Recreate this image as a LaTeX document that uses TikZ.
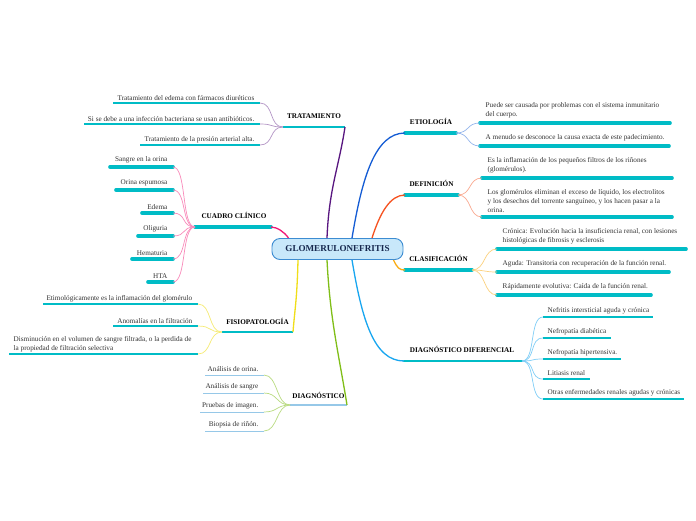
\documentclass[tikz,border=0pt]{standalone}
\usepackage{fontspec}
\setmainfont{Liberation Serif}
\usetikzlibrary{calc}
\definecolor{barteal}{RGB}{0,188,198}
\definecolor{rootfill}{RGB}{200,232,250}
\definecolor{rootline}{RGB}{60,140,210}
\definecolor{rootink}{RGB}{22,40,78}
\definecolor{tratcol}{RGB}{88,22,128}
\definecolor{cuadcol}{RGB}{242,22,118}
\definecolor{fisiocol}{RGB}{240,222,24}
\definecolor{diagcol}{RGB}{128,190,24}
\definecolor{etiocol}{RGB}{20,92,212}
\definecolor{defcol}{RGB}{246,82,32}
\definecolor{clascol}{RGB}{250,172,20}
\definecolor{difcol}{RGB}{24,166,240}
\definecolor{diagbar}{RGB}{150,200,232}

\tikzset{
  root/.style={draw=rootline,fill=rootfill,line width=0.9pt,rounded corners=8pt,
    minimum width=131pt,minimum height=21pt,inner sep=0pt,text=rootink,
    font=\bfseries\fontsize{9.1}{10}\selectfont},
  topic/.style={anchor=base,inner sep=0pt,font=\bfseries\fontsize{7.2}{8}\selectfont},
  leaf/.style={inner sep=0.5pt,font=\fontsize{7.2}{9}\selectfont,text=black!80},
  bar/.style={barteal,line width=3.6pt,line cap=round},
  thinbar/.style={barteal,line width=1.8pt},
  branch/.style={line width=1.3pt},
  twig/.style={line width=0.7pt}
}

\begin{document}
\begin{tikzpicture}[x=1pt,y=-1pt]
  \useasboundingbox[fill=white] (0,0) rectangle (696,520);

  % centre
  \node[root] (root) at (337.5,249) {GLOMERULONEFRITIS};

  % ---- left side ----
  % tratamiento
  \coordinate (tratL) at (283,127); \coordinate (tratR) at (345,127);
  \draw[thinbar] (tratL) -- (tratR);
  \node[topic] (trat) at (314,118) {TRATAMIENTO};
  \draw[branch,tratcol] ([xshift=-10.5pt]root.north) .. controls +(2,-50) and +(-6,40) .. (tratR);
  \foreach \n/\xa/\y/\t in {t1/113/103/{Tratamiento del edema con fármacos diuréticos},
      t2/84/124/{Si se debe a una infección bacteriana se usan antibióticos.},
      t3/140/145/{Tratamiento de la presión arterial alta.}}{
    \coordinate (\n) at (260,\y);
    \draw[thinbar] (\xa,\y) -- (\n);
    \node[leaf,anchor=south east] (\n-txt) at (255,\y-1.5) {\t};
    \draw[twig,tratcol!45] (tratL) .. controls +(-14,0) and +(14,0) .. (\n);
  }

  % cuadro clinico
  \coordinate (cuadL) at (195,227); \coordinate (cuadR) at (271,227);
  \draw[bar] (cuadL) -- (cuadR);
  \node[topic] (cuad) at (234,218) {CUADRO CLÍNICO};
  \draw[branch,cuadcol] ([xshift=-49pt]root.north) .. controls +(-4,-6) and +(6,0) .. (cuadR);
  \foreach \n/\xa/\y/\t in {c1/110/167/{Sangre en la orina},c2/116/190/{Orina espumosa},
      c3/142/213/{Edema},c4/138/236/{Oliguria},c5/132/259/{Hematuria},c6/148/282/{HTA}}{
    \coordinate (\n) at (173,\y);
    \draw[bar] (\xa,\y) -- (\n);
    \node[leaf,anchor=south east] (\n-txt) at (168,\y-3) {\t};
    \draw[twig,cuadcol!50] (cuadL) .. controls +(-14,0) and +(14,0) .. (\n);
  }

  % fisiopatologia
  \coordinate (fisioL) at (222,332); \coordinate (fisioR) at (293,332);
  \draw[thinbar] (fisioL) -- (fisioR);
  \node[topic] (fisio) at (257.5,324) {FISIOPATOLOGÍA};
  \draw[branch,fisiocol] ([xshift=-39.5pt]root.south) .. controls +(-1,40) and +(2,-25) .. (fisioR);
  \foreach \n/\xa/\y/\t in {f1/43/304/{Etimológicamente es la inflamación del glomérulo},
      f2/113/326/{Anomalías en la filtración}}{
    \coordinate (\n) at (198,\y);
    \draw[thinbar] (\xa,\y) -- (\n);
    \node[leaf,anchor=south east] (\n-txt) at (193,\y-1.5) {\t};
    \draw[twig,fisiocol!60] (fisioL) .. controls +(-14,0) and +(14,0) .. (\n);
  }
  \coordinate (f3) at (198,354);
  \draw[thinbar] (9,354) -- (f3);
  \node[leaf,anchor=south west,align=left] (f3-txt) at (13,352.5)
    {Disminución en el volumen de sangre filtrada, o la perdida de\\la propiedad de filtración selectiva};
  \draw[twig,fisiocol!60] (fisioL) .. controls +(-14,0) and +(14,0) .. (f3);

  % diagnostico
  \coordinate (diagL) at (290,405); \coordinate (diagR) at (347,405);
  \draw[diagbar,line width=1.2pt] (diagL) -- (diagR);
  \node[topic] (diag) at (318.5,398) {DIAGNÓSTICO};
  \draw[branch,diagcol] ([xshift=-10.5pt]root.south) .. controls +(3,60) and +(-8,-50) .. (diagR);
  \foreach \n/\xa/\y/\t in {d1/205/375/{Análisis de orina.},d2/203/393/{Análisis de sangre},
      d3/200/412/{Pruebas de imagen.},d4/205/431/{Biopsia de riñón.}}{
    \coordinate (\n) at (264,\y);
    \draw[diagbar,line width=0.8pt] (\xa,\y) -- (\n);
    \node[leaf,anchor=south east] (\n-txt) at (259,\y-2.5) {\t};
    \draw[twig,diagcol!55] (diagL) .. controls +(-14,0) and +(14,0) .. (\n);
  }

  % ---- right side ----
  % etiologia
  \coordinate (etioL) at (405,133); \coordinate (etioR) at (456,133);
  \draw[bar] (etioL) -- (etioR);
  \node[topic] (etio) at (431,124) {ETIOLOGÍA};
  \draw[branch,etiocol] ([xshift=14.5pt]root.north) .. controls +(10,-60) and +(-30,0) .. (etioL);
  \foreach \n/\y/\xb/\t in {e1/123/670/{Puede ser causada por problemas con el sistema inmunitario\\del cuerpo.},
      e2/146/669/{A menudo se desconoce la causa exacta de este padecimiento.}}{
    \coordinate (\n) at (480,\y);
    \draw[bar] (\n) -- (\xb,\y);
    \node[leaf,anchor=south west,align=left] (\n-txt) at (485,\y-4) {\t};
    \draw[twig,etiocol!45] (etioR) .. controls +(14,0) and +(-14,0) .. (\n);
  }

  % definicion
  \coordinate (defL) at (405,195); \coordinate (defR) at (458,195);
  \draw[bar] (defL) -- (defR);
  \node[topic] (def) at (431.5,186) {DEFINICIÓN};
  \draw[branch,defcol] ([xshift=34.5pt]root.north) .. controls +(8,-25) and +(-15,0) .. (defL);
  \foreach \n/\y/\t in {df1/178/{Es la inflamación de los pequeños filtros de los riñones\\(glomérulos).},
      df2/217/{Los glomérulos eliminan el exceso de líquido, los electrolitos\\y los desechos del torrente sanguíneo, y los hacen pasar a la\\orina.}}{
    \coordinate (\n) at (482,\y);
    \draw[bar] (\n) -- (672,\y);
    \node[leaf,anchor=south west,align=left] (\n-txt) at (487,\y-4) {\t};
    \draw[twig,defcol!50] (defR) .. controls +(14,0) and +(-14,0) .. (\n);
  }

  % clasificacion
  \coordinate (clasL) at (405,270); \coordinate (clasR) at (472,270);
  \draw[bar] (clasL) -- (clasR);
  \node[topic] (clas) at (438.5,261) {CLASIFICACIÓN};
  \draw[branch,clascol] ([xshift=-10pt]root.south east) .. controls +(4,8) and +(-6,0) .. (clasL);
  \foreach \n/\y/\xb/\t in {k1/249/686/{Crónica: Evolución hacia la insuficiencia renal, con lesiones\\histológicas de fibrosis y esclerosis},
      k2/272/669/{Aguda: Transitoria con recuperación de la función renal.},
      k3/295/651/{Rápidamente evolutiva: Caída de la función renal.}}{
    \coordinate (\n) at (497,\y);
    \draw[bar] (\n) -- (\xb,\y);
    \node[leaf,anchor=south west,align=left] (\n-txt) at (502,\y-4) {\t};
    \draw[twig,clascol!55] (clasR) .. controls +(14,0) and +(-14,0) .. (\n);
  }

  % diagnostico diferencial
  \coordinate (difL) at (404,361); \coordinate (difR) at (522,361);
  \draw[bar,line width=2.4pt] (difL) -- (difR);
  \node[topic] (dif) at (462,352) {DIAGNÓSTICO DIFERENCIAL};
  \draw[branch,difcol] ([xshift=14.5pt]root.south) .. controls +(10,60) and +(-30,0) .. (difL);
  \foreach \n/\y/\xb/\t in {x1/317/653/{Nefritis intersticial aguda y crónica},
      x2/338/611/{Nefropatía diabética},x3/359/621/{Nefropatía hipertensiva.},
      x4/379/590/{Litiasis renal},x5/399/684/{Otras enfermedades renales agudas y crónicas}}{
    \coordinate (\n) at (543,\y);
    \draw[thinbar] (\n) -- (\xb,\y);
    \node[leaf,anchor=south west] (\n-txt) at (547,\y-2.5) {\t};
    \draw[twig,difcol!55] (difR) .. controls +(14,0) and +(-14,0) .. (\n);
  }
\end{tikzpicture}
\end{document}
